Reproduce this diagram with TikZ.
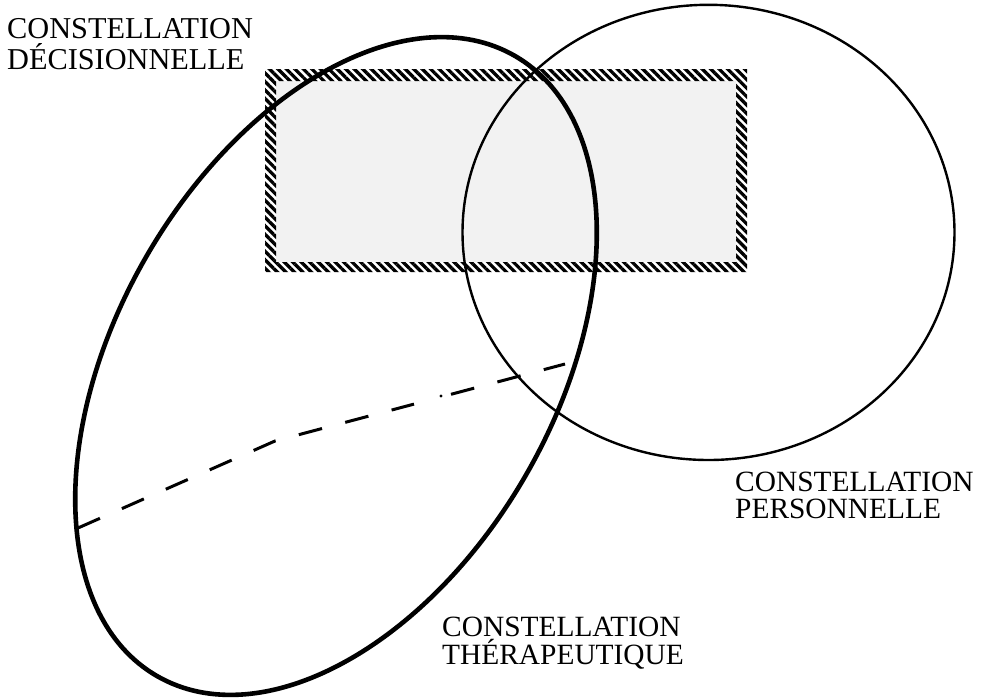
\documentclass[tikz,border=0pt]{standalone}
\usepackage{fontspec}
\setmainfont{Liberation Serif}
\usetikzlibrary{patterns.meta}
\begin{document}
\begin{tikzpicture}[x=1pt,y=-1pt,
  lab/.style={anchor=north west, inner sep=0pt, align=left},
  ellline/.style={line width=4.6pt},
  circline/.style={line width=2.4pt},
  dashline/.style={line width=3pt, dash pattern=on 24pt off 24pt},
  stripeband/.style={pattern={Lines[angle=-45,distance=6pt,line width=3.3pt]}, even odd rule},
  stipple/.style={fill=black!5}]
\useasboundingbox (0,0) rectangle (986,699);
% decision rectangle
\fill[stipple] (276,81) rectangle (736,262);
\fill[stripeband] (265,69) rectangle (747,272) (276,81) rectangle (736,262);
% therapeutic ellipse
\draw[ellline, rotate around={60:(336,366)}] (336,366) ellipse [x radius=358pt, y radius=219pt];
% personal circle
\draw[circline] (708.5,232.4) ellipse [x radius=246pt, y radius=227.6pt];
% dashed divider
\coordinate (dA) at (78,528);
\coordinate (dB) at (275,441);
\coordinate (dC) at (414,404.1);
\coordinate (dD) at (451,394.3);
\coordinate (dE) at (565,364);
\coordinate (dot) at (441,396);
\draw[dashline] (dA) -- (dB) -- (dC);
\draw[dashline] (dD) -- (dE);
\fill (dot) circle (1.7pt);
% labels
\node[lab, font=\fontsize{30.3}{30.5}\selectfont] (l1) at (7,18.5) {CONSTELLATION\\DÉCISIONNELLE};
\node[lab, font=\fontsize{29.4}{26.5}\selectfont] (l2) at (735,472) {CONSTELLATION\\PERSONNELLE};
\node[lab, font=\fontsize{29.4}{28}\selectfont] (l3) at (442,617) {CONSTELLATION\\THÉRAPEUTIQUE};
\end{tikzpicture}
\end{document}
